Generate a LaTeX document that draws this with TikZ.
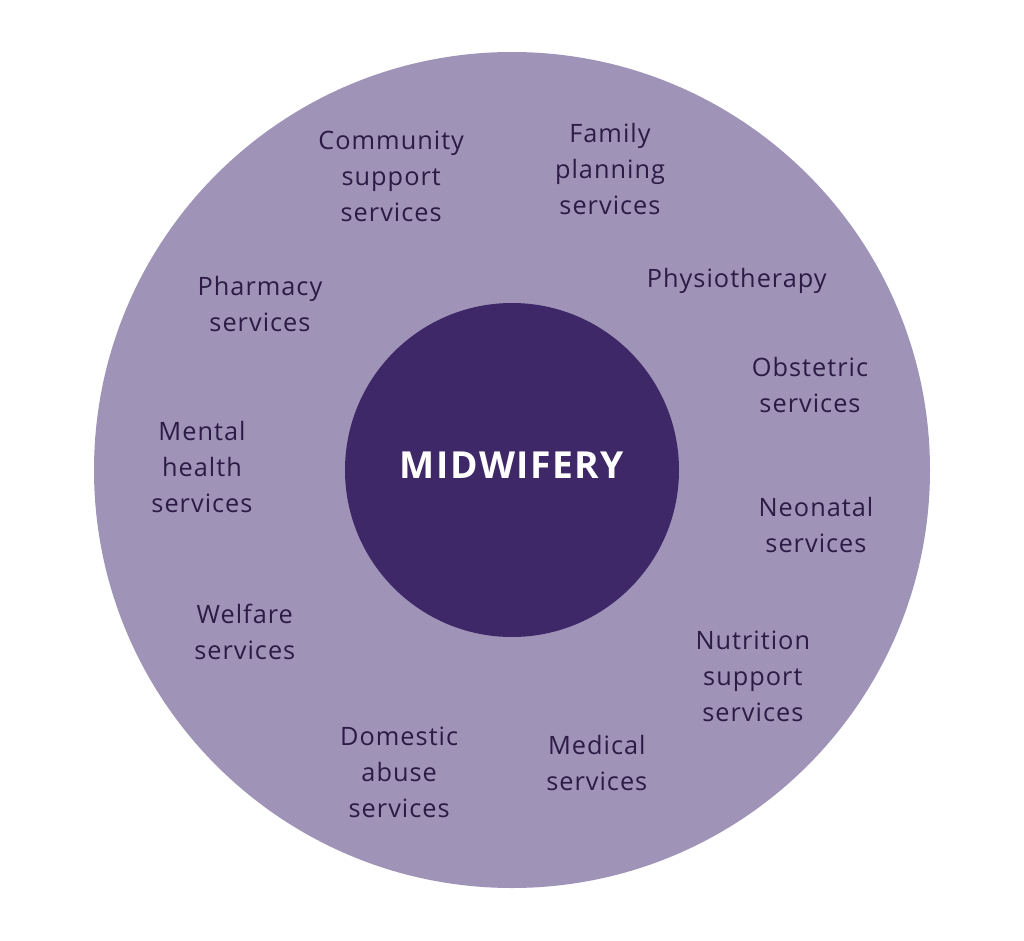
\documentclass[tikz,border=0pt]{standalone}
\usepackage{fontspec}
\setmainfont{Open Sans}[LetterSpace=4]
\usepackage{tikz}

\definecolor{outerpurple}{HTML}{9F93B7}
\definecolor{innerpurple}{HTML}{3F2868}
\definecolor{textpurple}{HTML}{2B1B45}

\begin{document}
\begin{tikzpicture}[
    service/.style={align=center, text=textpurple, font=\fontsize{18}{25.6}\selectfont},
    core/.style={circle, fill=innerpurple, minimum size=8.35cm, inner sep=0pt},
    title/.style={text=white, font=\fontsize{26.5}{30}\selectfont\bfseries}
  ]
        \useasboundingbox (0, 0) rectangle (25.6, -23.525);

        % Draw circles
        \node[circle, fill=outerpurple, minimum size=20.9cm, inner sep=0pt] (ring) at (12.8, -11.75) {};
        \node[core] (M) at (12.8, -11.75) {};
        \node[title] (T) at ([yshift=0.125cm]M.center) {MIDWIFERY};

        % Draw services
        \node[service] (CS) at (9.78, -4.42) {Community\\support\\services};
        \node[service] (FP) at (15.25, -4.22) {Family\\planning\\services};
        \node[service] (PT) at (18.42, -7.03) {Physiotherapy};
        \node[service] (PH) at (6.5, -7.6) {Pharmacy\\services};
        \node[service] (OB) at (20.25, -9.62) {Obstetric\\services};
        \node[service] (MH) at (5.05, -11.67) {Mental\\health\\services};
        \node[service] (NE) at (20.4, -13.12) {Neonatal\\services};
        \node[service] (WE) at (6.12, -15.8) {Welfare\\services};
        \node[service] (NU) at (18.82, -16.92) {Nutrition\\support\\services};
        \node[service] (MS) at (14.92, -19.08) {Medical\\services};
        \node[service] (DA) at (9.98, -19.32) {Domestic\\abuse\\services};
      \end{tikzpicture}
\end{document}
